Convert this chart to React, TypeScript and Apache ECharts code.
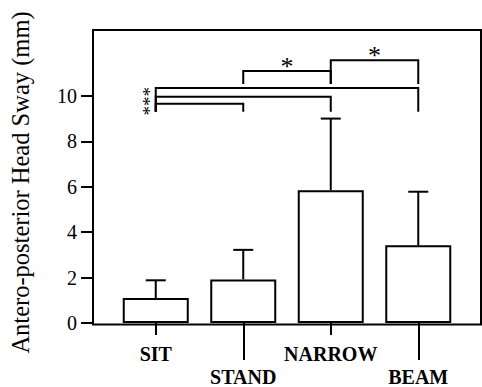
import React, { useEffect, useRef } from "react";
import * as echarts from "echarts";

const categories = ["SIT", "STAND", "NARROW", "BEAM"];
const means = [1.1, 1.92, 5.85, 3.42];
const sds = [0.78, 1.3, 3.15, 2.36];
const yTicks = [0, 2, 4, 6, 8, 10];

// significance brackets: from category index, to category index, bar level, end level
const bracketFrom = [1, 2, 0, 0, 0];
const bracketTo = [2, 3, 3, 2, 1];
const bracketLevel = [11.09, 11.57, 10.35, 9.96, 9.65];
const bracketEnd = [10.52, 10.52, 9.3, 9.3, 9.3];
const bracketLabel = ["*", "*", "", "***", ""];
const bracketLabelSide = ["top", "top", "left", "left", "left"];

const SERIF = "'Liberation Serif', 'Times New Roman', serif";

export default function App() {
  const ref = useRef<HTMLDivElement>(null);
  useEffect(() => {
    if (!ref.current) return;
    const chart = echarts.init(ref.current, null, { renderer: "svg" });
    const errData = means.map((m, i) => [i, m, sds[i]]);
    const brData = bracketFrom.map((f, i) => [f, bracketTo[i], bracketLevel[i], bracketEnd[i], i]);
    const option: any = {
      animation: false,
      backgroundColor: "#fff",
      grid: { left: 112, right: 20, top: 30, bottom: 62.5 },
      graphic: [
        {
          type: "rect",
          shape: { x: 93, y: 30, width: 388, height: 294.5 },
          style: { fill: "none", stroke: "#000", lineWidth: 2 },
          z: 10,
        },
      ],
      xAxis: [
        {
          type: "category",
          data: categories,
          position: "bottom",
          axisLine: { show: false },
          axisTick: {
            show: true,
            alignWithLabel: true,
            length: 12,
            interval: (i: number) => i % 2 === 0,
            lineStyle: { color: "#000", width: 2 },
          },
          axisLabel: {
            interval: (i: number) => i % 2 === 0,
            margin: 21,
            color: "#000",
            fontFamily: SERIF,
            fontWeight: "bold",
            fontSize: 20,
          },
        },
        {
          type: "category",
          data: categories,
          position: "bottom",
          axisLine: { show: false },
          axisTick: {
            show: true,
            alignWithLabel: true,
            length: 37,
            interval: (i: number) => i % 2 === 1,
            lineStyle: { color: "#000", width: 2 },
          },
          axisLabel: {
            interval: (i: number) => i % 2 === 1,
            margin: 44,
            color: "#000",
            fontFamily: SERIF,
            fontWeight: "bold",
            fontSize: 20,
          },
        },
      ],
      yAxis: {
        type: "value",
        min: 0,
        max: 12.9,
        interval: 2,
        offset: 19,
        axisLine: { show: false },
        splitLine: { show: false },
        axisTick: {
          show: true,
          length: 12,
          customValues: yTicks,
          lineStyle: { color: "#000", width: 2 },
        },
        axisLabel: {
          customValues: yTicks,
          margin: 16,
          color: "#000",
          fontFamily: SERIF,
          fontSize: 20,
        },
        name: "Antero-posterior Head Sway (mm)",
        nameLocation: "middle",
        nameGap: 60,
        nameTextStyle: {
          color: "#000",
          fontFamily: SERIF,
          fontSize: 24.5,
          padding: [0, 12, 0, 0],
        },
      },
      series: [
        {
          type: "bar",
          data: means,
          barWidth: 66,
          itemStyle: { color: "#fff", borderColor: "#000", borderWidth: 2 },
          z: 2,
        },
        {
          type: "custom",
          data: errData,
          clip: false,
          z: 3,
          renderItem: (params: any, api: any) => {
            const x = api.value(0);
            const m = api.value(1);
            const e = api.value(2);
            const p0 = api.coord([x, m]);
            const p1 = api.coord([x, m + e]);
            const half = 10;
            const st = { stroke: "#000", lineWidth: 2 };
            return {
              type: "group",
              children: [
                { type: "line", shape: { x1: p0[0], y1: p0[1], x2: p1[0], y2: p1[1] }, style: st },
                { type: "line", shape: { x1: p1[0] - half, y1: p1[1], x2: p1[0] + half, y2: p1[1] }, style: st },
              ],
            };
          },
        },
        {
          type: "custom",
          data: brData,
          clip: false,
          z: 3,
          renderItem: (params: any, api: any) => {
            const f = api.value(0);
            const t = api.value(1);
            const lv = api.value(2);
            const en = api.value(3);
            const idx = api.value(4);
            const a = api.coord([f, en]);
            const b = api.coord([f, lv]);
            const c = api.coord([t, lv]);
            const d = api.coord([t, en]);
            const side = bracketLabelSide[idx];
            const children: any[] = [
              {
                type: "polyline",
                shape: { points: [a, b, c, d] },
                style: { stroke: "#000", lineWidth: 2, fill: "none" },
              },
            ];
            if (bracketLabel[idx]) {
              children.push(
                side === "top"
                  ? {
                      type: "text",
                      x: (b[0] + c[0]) / 2,
                      y: b[1] - 4.5,
                      style: {
                        text: bracketLabel[idx],
                        align: "center",
                        verticalAlign: "middle",
                        font: `26px ${SERIF}`,
                        fill: "#000",
                      },
                    }
                  : {
                      type: "text",
                      x: b[0] - 12.5,
                      y: b[1] + 4.5,
                      rotation: -Math.PI / 2,
                      style: {
                        text: bracketLabel[idx],
                        align: "center",
                        verticalAlign: "middle",
                        font: `19px ${SERIF}`,
                        fill: "#000",
                      },
                    }
              );
            }
            return { type: "group", children };
          },
        },
      ],
    };
    chart.setOption(option);
    return () => chart.dispose();
  }, []);
  return <div ref={ref} style={{ width: 482, height: 387, position: "absolute", left: 0, top: 0 }} />;
}
